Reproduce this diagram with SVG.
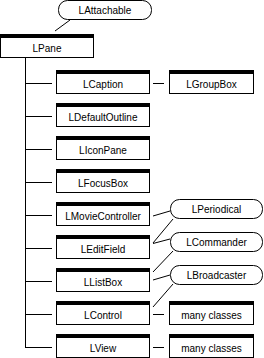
<svg xmlns="http://www.w3.org/2000/svg" width="264" height="358" viewBox="0 0 264 358">
<style>
.box{fill:#fff;stroke:#000;stroke-width:1}
.bar{fill:#000}
.pill{fill:#fff;stroke:#000;stroke-width:1}
.t{font-family:"Liberation Sans",Arial,sans-serif;font-size:10px;text-anchor:middle;fill:#000}
.c line{stroke:#000;stroke-width:1}
</style>
<rect width="264" height="358" fill="#fff"/>
<g id="connectors" class="c">
<line x1="25.5" y1="58" x2="25.5" y2="347.5"/>
<line x1="25" y1="83.5" x2="52" y2="83.5"/>
<line x1="25" y1="116.5" x2="52" y2="116.5"/>
<line x1="25" y1="149.5" x2="52" y2="149.5"/>
<line x1="25" y1="182.5" x2="52" y2="182.5"/>
<line x1="25" y1="215.5" x2="52" y2="215.5"/>
<line x1="25" y1="248.5" x2="52" y2="248.5"/>
<line x1="25" y1="281.5" x2="52" y2="281.5"/>
<line x1="25" y1="314.5" x2="52" y2="314.5"/>
<line x1="25" y1="347.5" x2="52" y2="347.5"/>
<line x1="153" y1="83.5" x2="164" y2="83.5"/>
<line x1="153" y1="314.5" x2="164" y2="314.5"/>
<line x1="153" y1="347.5" x2="164" y2="347.5"/>
<line x1="55" y1="31" x2="70" y2="20"/>
<line x1="153" y1="216" x2="170" y2="211"/>
<line x1="153" y1="243" x2="173" y2="219"/>
<line x1="153" y1="243.5" x2="170" y2="239"/>
<line x1="153" y1="272" x2="173" y2="251"/>
<line x1="153" y1="280" x2="170" y2="275"/>
<line x1="153" y1="307" x2="173" y2="284"/>
</g>
<g id="LAttachable"><rect class="pill" x="58.5" y="0.5" width="93" height="19" rx="9"/><text class="t" x="105" y="13.5">LAttachable</text></g>
<g id="LPane"><rect class="box" x="0.5" y="34.5" width="93" height="23"/><rect class="bar" x="0" y="34" width="94" height="4"/><text class="t" x="47" y="52">LPane</text></g>
<g id="LCaption"><rect class="box" x="56.5" y="70.5" width="93" height="23"/><rect class="bar" x="56" y="70" width="94" height="4"/><text class="t" x="103" y="88">LCaption</text></g>
<g id="LGroupBox"><rect class="box" x="169.5" y="70.5" width="84" height="23"/><rect class="bar" x="169" y="70" width="85" height="4"/><text class="t" x="211.5" y="88">LGroupBox</text></g>
<g id="LDefaultOutline"><rect class="box" x="56.5" y="103.5" width="93" height="23"/><rect class="bar" x="56" y="103" width="94" height="4"/><text class="t" x="103" y="121">LDefaultOutline</text></g>
<g id="LIconPane"><rect class="box" x="56.5" y="136.5" width="93" height="23"/><rect class="bar" x="56" y="136" width="94" height="4"/><text class="t" x="103" y="154">LIconPane</text></g>
<g id="LFocusBox"><rect class="box" x="56.5" y="169.5" width="93" height="23"/><rect class="bar" x="56" y="169" width="94" height="4"/><text class="t" x="103" y="187">LFocusBox</text></g>
<g id="LMovieController"><rect class="box" x="56.5" y="202.5" width="93" height="23"/><rect class="bar" x="56" y="202" width="94" height="4"/><text class="t" x="103" y="220">LMovieController</text></g>
<g id="LEditField"><rect class="box" x="56.5" y="235.5" width="93" height="23"/><rect class="bar" x="56" y="235" width="94" height="4"/><text class="t" x="103" y="253">LEditField</text></g>
<g id="LListBox"><rect class="box" x="56.5" y="268.5" width="93" height="23"/><rect class="bar" x="56" y="268" width="94" height="4"/><text class="t" x="103" y="286">LListBox</text></g>
<g id="LControl"><rect class="box" x="56.5" y="301.5" width="93" height="23"/><rect class="bar" x="56" y="301" width="94" height="4"/><text class="t" x="103" y="319">LControl</text></g>
<g id="LView"><rect class="box" x="56.5" y="334.5" width="93" height="23"/><rect class="bar" x="56" y="334" width="94" height="4"/><text class="t" x="103" y="352">LView</text></g>
<g id="ManyClasses1"><rect class="box" x="169.5" y="301.5" width="84" height="23"/><rect class="bar" x="169" y="301" width="85" height="4"/><text class="t" x="211.5" y="319">many classes</text></g>
<g id="ManyClasses2"><rect class="box" x="169.5" y="334.5" width="84" height="23"/><rect class="bar" x="169" y="334" width="85" height="4"/><text class="t" x="211.5" y="352">many classes</text></g>
<g id="LPeriodical"><rect class="pill" x="170.5" y="199.5" width="92" height="19" rx="9"/><text class="t" x="216.5" y="212.5">LPeriodical</text></g>
<g id="LCommander"><rect class="pill" x="170.5" y="232.5" width="92" height="19" rx="9"/><text class="t" x="216.5" y="245.5">LCommander</text></g>
<g id="LBroadcaster"><rect class="pill" x="170.5" y="265.5" width="92" height="19" rx="9"/><text class="t" x="216.5" y="278.5">LBroadcaster</text></g>
</svg>
